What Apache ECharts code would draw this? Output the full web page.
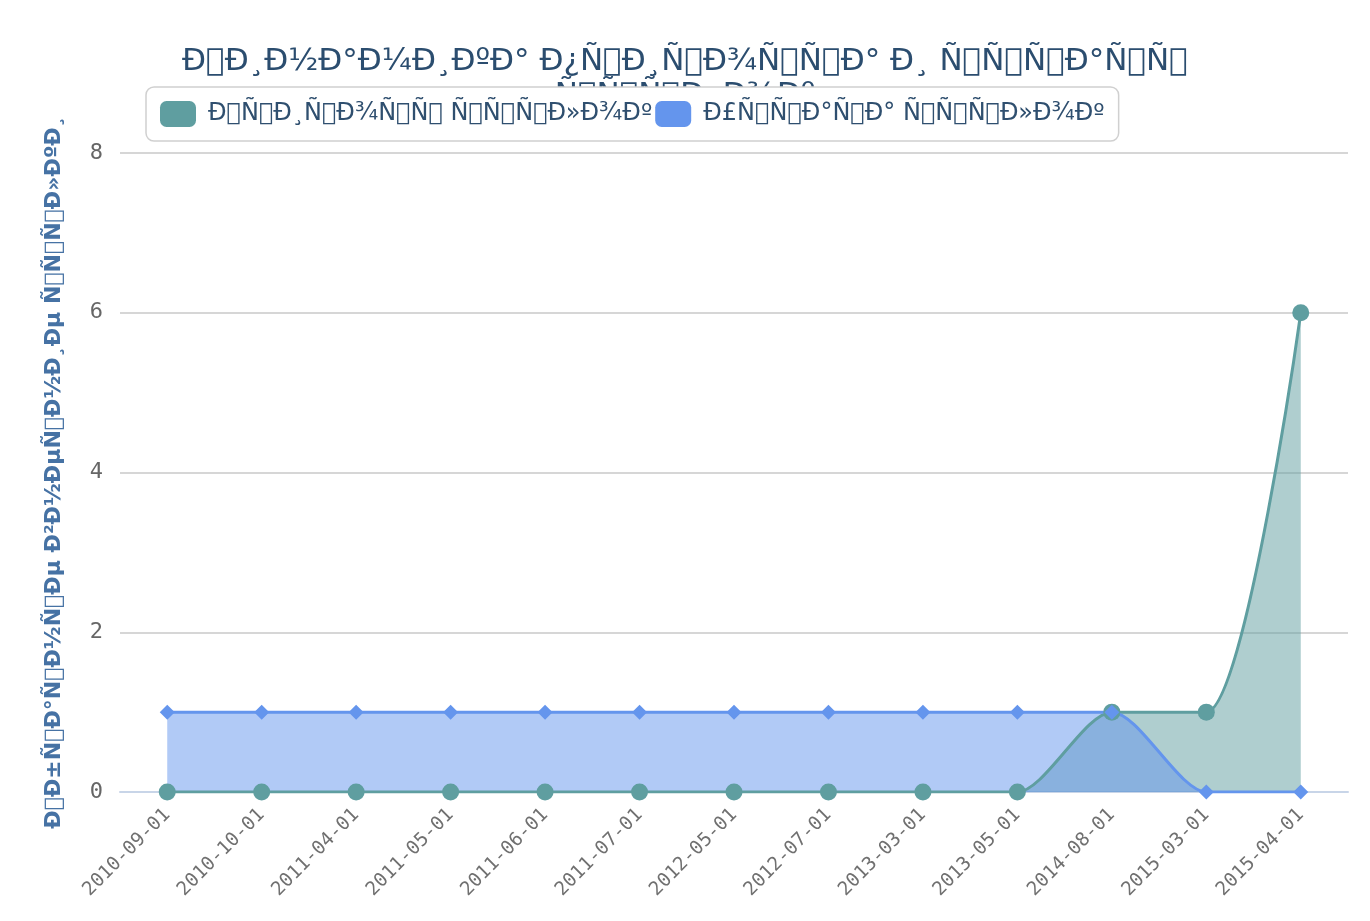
<!DOCTYPE html>
<html>
<head>
<meta charset="utf-8">
<title>chart</title>
<script src="https://cdn.jsdelivr.net/npm/echarts@6/dist/echarts.min.js"></script>
<style>
html, body { margin: 0; padding: 0; background: #fff; }
#main { width: 1370px; height: 921px; }
</style>
</head>
<body>
<div id="main"></div>
<script>
// the source page showed its Russian text through a broken encoding (UTF-8 read as Latin-1),
// so the labels are written in Russian and garbled the same way;
// the C1 control bytes showed up as empty glyph boxes, so they go to private-use chars
const garble = s => unescape(encodeURIComponent(s))
  .replace(/[\u0080-\u009f]/g, c => String.fromCharCode(0xe000 + c.charCodeAt(0)));

const titleLines = ["Динамика прироста и утраты", "ссылок"];
const yName = "Обратные внешние ссылки";
const seriesNames = ["Прирост ссылок", "Утрата ссылок"];

const dates = [
  "2010-09-01", "2010-10-01", "2011-04-01", "2011-05-01", "2011-06-01",
  "2011-07-01", "2012-05-01", "2012-07-01", "2013-03-01", "2013-05-01",
  "2014-08-01", "2015-03-01", "2015-04-01"
];
const gained = [0, 0, 0, 0, 0, 0, 0, 0, 0, 0, 1, 1, 6];
const lost = [1, 1, 1, 1, 1, 1, 1, 1, 1, 1, 1, 0, 0];

const yTicks = { min: 0, max: 8, interval: 2 };

const sans = "'DejaVu Sans', sans-serif";
const mono = "'DejaVu Sans Mono', monospace";

let ec = echarts.init(document.getElementById("main"));
ec.setOption({
  animation: false,
  title: {
    text: titleLines.map(garble).join("\n"),
    left: "center",
    top: 40,
    z: 1,
    textStyle: {
      fontFamily: sans,
      fontSize: 31,
      fontWeight: "normal",
      lineHeight: 34,
      color: "#2b4d6f"
    }
  },
  legend: {
    left: 146,
    top: 87,
    z: 5,
    padding: [14, 14],
    itemGap: 3,
    itemWidth: 36,
    itemHeight: 26,
    icon: "roundRect",
    backgroundColor: "#fff",
    borderColor: "#d0d0d0",
    borderWidth: 1.5,
    borderRadius: 8,
    textStyle: {
      fontFamily: sans,
      fontSize: 24,
      color: "#2f4f6f",
      padding: [0, 0, 0, 7]
    },
    data: seriesNames.map(garble)
  },
  grid: {
    left: 120,
    right: 22,
    top: 153,
    bottom: 129,
    containLabel: false
  },
  xAxis: {
    type: "category",
    data: dates,
    boundaryGap: true,
    axisLine: { lineStyle: { color: "#c8d5e8", width: 2 } },
    axisTick: { alignWithLabel: false, length: 10, lineStyle: { color: "#c8d5e8", width: 2 } },
    axisLabel: {
      rotate: 45,
      margin: 20,
      fontFamily: mono,
      fontSize: 19,
      color: "#707070"
    }
  },
  yAxis: {
    type: "value",
    min: yTicks.min,
    max: yTicks.max,
    interval: yTicks.interval,
    name: garble(yName),
    nameLocation: "middle",
    nameGap: 55,
    nameTextStyle: {
      fontFamily: sans,
      fontSize: 22,
      fontWeight: "bold",
      color: "#4672a4"
    },
    axisLine: { show: false },
    axisTick: { show: false },
    axisLabel: {
      margin: 17,
      fontFamily: mono,
      fontSize: 22,
      color: "#666"
    },
    splitLine: { lineStyle: { color: "#c8c8c8", width: 1.5 } }
  },
  series: [
    {
      name: garble(seriesNames[0]),
      type: "line",
      data: gained,
      smooth: 0.25,
      symbol: "circle",
      symbolSize: 17,
      itemStyle: { color: "#5f9ea0" },
      lineStyle: { width: 3 },
      areaStyle: { opacity: 0.5 }
    },
    {
      name: garble(seriesNames[1]),
      type: "line",
      data: lost,
      smooth: 0.25,
      symbol: "diamond",
      symbolSize: 15,
      itemStyle: { color: "#6495ed" },
      lineStyle: { width: 3 },
      areaStyle: { opacity: 0.5 }
    }
  ]
});
</script>
</body>
</html>
